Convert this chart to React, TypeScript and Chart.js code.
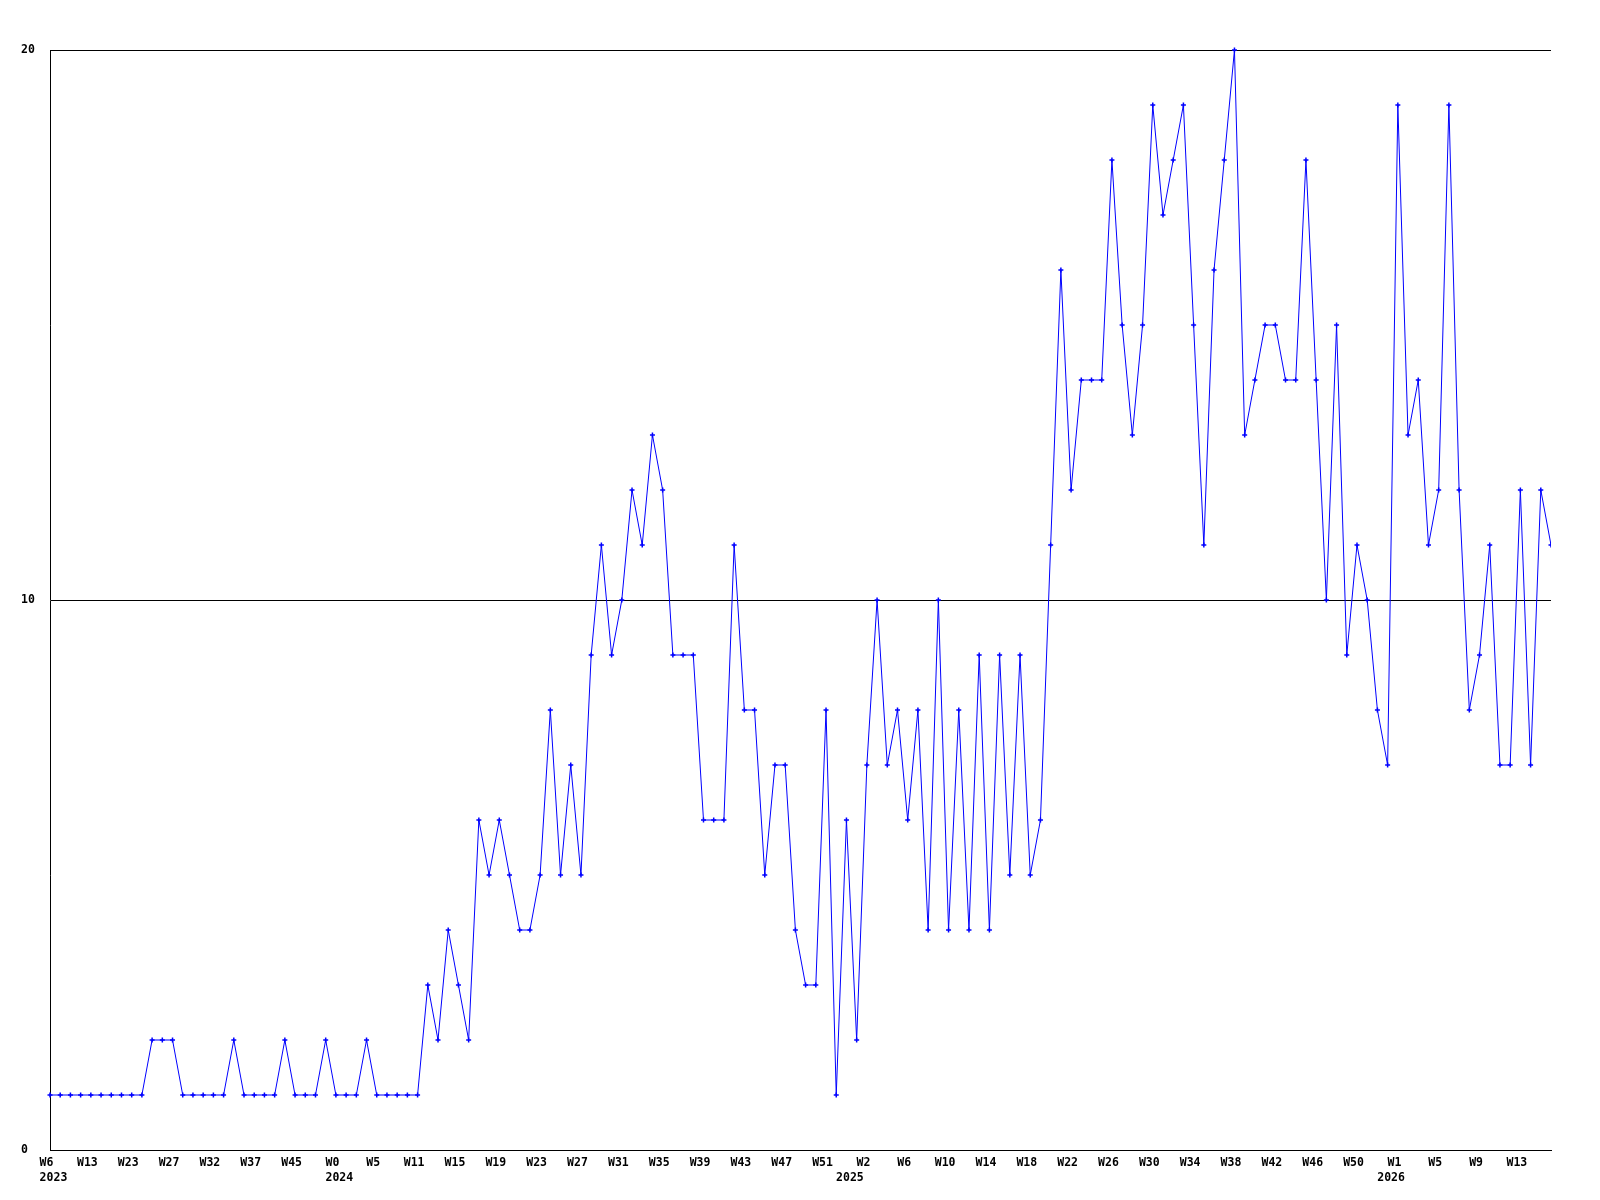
import { useEffect, useRef } from 'react';
import { Chart, registerables } from 'chart.js';

Chart.register(...registerables);

// weekly counts, one per category point
const values = [
  1, 1, 1, 1, 1, 1, 1, 1, 1, 1,
  2, 2, 2, 1, 1, 1, 1, 1, 2, 1,
  1, 1, 1, 2, 1, 1, 1, 2, 1, 1,
  1, 2, 1, 1, 1, 1, 1, 3, 2, 4,
  3, 2, 6, 5, 6, 5, 4, 4, 5, 8,
  5, 7, 5, 9, 11, 9, 10, 12, 11, 13,
  12, 9, 9, 9, 6, 6, 6, 11, 8, 8,
  5, 7, 7, 4, 3, 3, 8, 1, 6, 2,
  7, 10, 7, 8, 6, 8, 4, 10, 4, 8,
  4, 9, 4, 9, 5, 9, 5, 6, 11, 16,
  12, 14, 14, 14, 18, 15, 13, 15, 19, 17,
  18, 19, 15, 11, 16, 18, 20, 13, 14, 15,
  15, 14, 14, 18, 14, 10, 15, 9, 11, 10,
  8, 7, 19, 13, 14, 11, 12, 19, 12, 8,
  9, 11, 7, 7, 12, 7, 12, 11,
];

// tick labels shown on every 4th point
const weekTicks = [
  'W6', 'W13', 'W23', 'W27', 'W32', 'W37', 'W45',
  'W0', 'W5', 'W11', 'W15', 'W19', 'W23', 'W27', 'W31', 'W35', 'W39', 'W43', 'W47', 'W51',
  'W2', 'W6', 'W10', 'W14', 'W18', 'W22', 'W26', 'W30', 'W34', 'W38', 'W42', 'W46', 'W50',
  'W1', 'W5', 'W9', 'W13',
];
const weekTickStep = 4;

// year labels, placed under the first point of each year
const yearTickIndex = [0, 28, 78, 131];
const yearTicks = ['2023', '2024', '2025', '2026'];

const yMin = 0;
const yMax = 20;
const yStep = 10;

export default function App() {
  const ref = useRef<HTMLCanvasElement>(null);

  useEffect(() => {
    if (!ref.current) return;
    const labels = values.map((_, i) => {
      const raw = i % weekTickStep === 0 ? (weekTicks[i / weekTickStep] ?? '') : '';
      const wk = raw ? raw + ' ' : '';
      const yi = yearTickIndex.indexOf(i);
      return yi >= 0 ? [wk, ' ' + yearTicks[yi]] : wk;
    });

    const font = {
      family: "'DejaVu Sans Mono', 'Liberation Mono', monospace",
      size: 11.5,
      weight: 'bold' as const,
      lineHeight: '14.5px',
    };

    const chart = new Chart(ref.current, {
      type: 'line',
      data: {
        labels,
        datasets: [
          {
            data: values,
            borderColor: '#0000ff',
            borderWidth: 1,
            tension: 0,
            fill: false,
            pointStyle: 'cross',
            pointRadius: 2.5,
            pointBorderWidth: 1.5,
            pointBorderColor: '#0000ff',
            pointBackgroundColor: '#0000ff',
            clip: { left: 5, top: 5, right: 0, bottom: 5 } as any,
          },
        ],
      },
      options: {
        responsive: false,
        animation: false,
        devicePixelRatio: 1,
        layout: { padding: { left: 21, top: 50, right: 49, bottom: 0 } },
        plugins: {
          legend: { display: false },
          tooltip: { enabled: false },
          title: { display: false },
        },
        scales: {
          x: {
            type: 'category',
            offset: false,
            grid: { display: false, drawTicks: false, tickLength: 0 },
            border: { display: true, color: '#000000', width: 1 },
            ticks: {
              autoSkip: false,
              maxRotation: 0,
              minRotation: 0,
              padding: 6,
              color: '#000000',
              font,
            },
            afterFit: (scale: any) => {
              scale.height = 50;
            },
          },
          y: {
            min: yMin,
            max: yMax,
            grid: { display: true, drawTicks: false, color: '#000000', lineWidth: 1 },
            border: { display: true, color: '#000000', width: 1 },
            ticks: {
              stepSize: yStep,
              crossAlign: 'far',
              color: '#000000',
              font,
            },
            afterFit: (scale: any) => {
              scale.width = 29;
            },
          },
        },
      },
    });

    return () => chart.destroy();
  }, []);

  return (
    <div style={{ position: 'absolute', left: 0, top: 0, width: 1600, height: 1200, background: '#ffffff' }}>
      <canvas ref={ref} width={1600} height={1200} style={{ display: 'block' }} />
    </div>
  );
}
